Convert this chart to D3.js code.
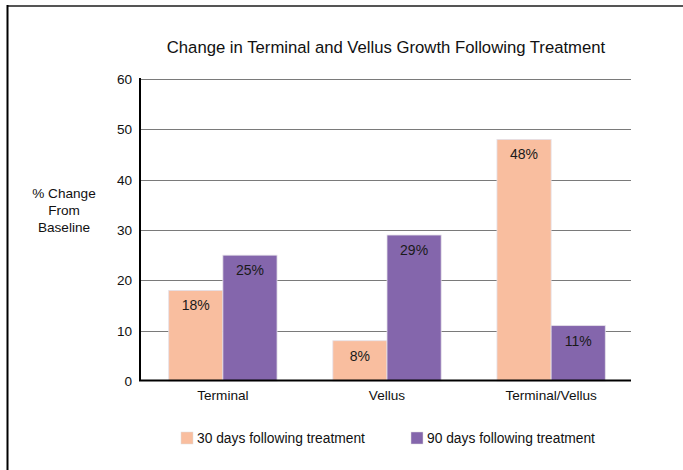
<!DOCTYPE html>
<html><head><meta charset="utf-8">
<script src="https://cdn.jsdelivr.net/npm/d3@7"></script>
<style>
html,body{margin:0;padding:0;background:#fff;}
svg{display:block;font-family:"Liberation Sans",Arial,Helvetica,sans-serif;}
</style></head>
<body>
<svg id="chart" width="683" height="470"></svg>
<script>
const categories = ["Terminal", "Vellus", "Terminal/Vellus"];
const seriesNames = ["30 days following treatment", "90 days following treatment"];
const days30 = [18, 8, 48];
const days90 = [25, 29, 11];
const yTicks = [0, 10, 20, 30, 40, 50, 60];
const colors = ["#F9BE9F", "#8466AC"];

const svg = d3.select("#chart");

// frame
svg.append("line").attr("x1", 7).attr("x2", 683).attr("y1", 6).attr("y2", 6)
  .attr("stroke", "#555").attr("stroke-width", 2);
svg.append("line").attr("x1", 7.5).attr("x2", 7.5).attr("y1", 5).attr("y2", 470)
  .attr("stroke", "#000").attr("stroke-width", 2);

const x0 = d3.scaleBand().domain(categories).range([140, 634]).paddingInner(0.34).paddingOuter(0.175);
const x1 = d3.scaleBand().domain([0, 1]).range([0, x0.bandwidth()]);
const y = d3.scaleLinear().domain([0, 60]).range([381, 79]);

// title
svg.append("text").attr("x", 386).attr("y", 53).attr("text-anchor", "middle")
  .attr("font-size", 16.7).attr("fill", "#111")
  .text("Change in Terminal and Vellus Growth Following Treatment");

// gridlines
svg.append("g").selectAll("line").data(yTicks.filter(d => d > 0)).join("line")
  .attr("x1", 140).attr("x2", 631)
  .attr("y1", d => Math.round(y(d)) + 0.5).attr("y2", d => Math.round(y(d)) + 0.5)
  .attr("stroke", "#7a7a7a").attr("stroke-width", 1);

// y axis
const yAxis = d3.axisLeft(y).tickValues(yTicks).tickSize(0).tickPadding(8);
const gy = svg.append("g").attr("transform", "translate(140,0)").call(yAxis);
gy.select(".domain").remove();
gy.selectAll("text").attr("font-size", 13.6).attr("fill", "#111")
  .attr("font-family", "Liberation Sans, Arial, sans-serif");

// y axis title
const yt = svg.append("text").attr("text-anchor", "middle").attr("font-size", 13.6).attr("fill", "#111");
["% Change", "From", "Baseline"].forEach((t, i) => {
  yt.append("tspan").attr("x", 64).attr("y", 198 + i * 17).text(t);
});

// bars
const rows = categories.map((c, i) => ({cat: c, vals: [days30[i], days90[i]]}));
const groups = svg.append("g").selectAll("g").data(rows).join("g")
  .attr("transform", d => `translate(${x0(d.cat)},0)`);
groups.selectAll("rect").data(d => d.vals.map((v, k) => ({v, k}))).join("rect")
  .attr("x", d => x1(d.k)).attr("width", x1.bandwidth())
  .attr("y", d => y(d.v)).attr("height", d => y(0) - y(d.v))
  .attr("fill", d => colors[d.k]).attr("stroke", "#e4e0e8").attr("stroke-width", 0.8);
groups.selectAll("text").data(d => d.vals.map((v, k) => ({v, k}))).join("text")
  .attr("x", d => x1(d.k) + x1.bandwidth() / 2).attr("y", d => y(d.v) + 20)
  .attr("text-anchor", "middle").attr("font-size", 14).attr("fill", "#1a1a1a")
  .text(d => d.v + "%");

// y-axis line and baseline
svg.append("line").attr("x1", 140).attr("x2", 140).attr("y1", 78).attr("y2", 381)
  .attr("stroke", "#000").attr("stroke-width", 2);
svg.append("line").attr("x1", 139).attr("x2", 631).attr("y1", 380.5).attr("y2", 380.5)
  .attr("stroke", "#000").attr("stroke-width", 2);

// x axis labels
const xAxis = d3.axisBottom(x0).tickSize(0).tickPadding(9);
const gx = svg.append("g").attr("transform", "translate(0,381)").call(xAxis);
gx.select(".domain").remove();
gx.selectAll("text").attr("font-size", 13.6).attr("fill", "#111")
  .attr("font-family", "Liberation Sans, Arial, sans-serif");

// legend
const legendX = [181, 411];
seriesNames.forEach((n, i) => {
  svg.append("rect").attr("x", legendX[i]).attr("y", 432).attr("width", 12).attr("height", 12)
    .attr("fill", colors[i]).attr("stroke", "#ddd").attr("stroke-width", 0.5);
  svg.append("text").attr("x", legendX[i] + 16).attr("y", 443).attr("font-size", 13.8)
    .attr("fill", "#111").text(n);
});
</script>
</body></html>
